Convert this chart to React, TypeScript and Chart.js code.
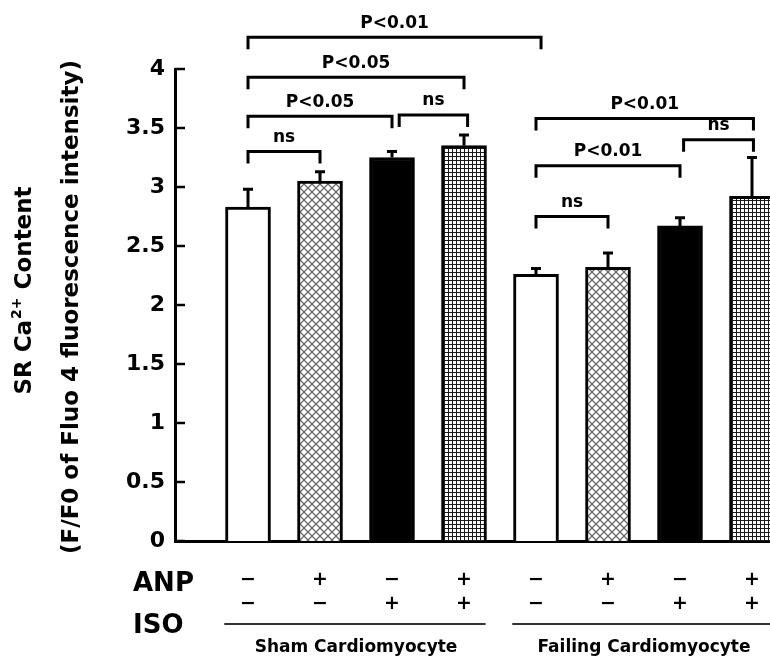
import React, { useEffect, useRef } from 'react';
import { Chart, registerables } from 'chart.js';
Chart.register(...registerables);

// ---- data ----
const categories = ['Sham −/−', 'Sham +/−', 'Sham −/+', 'Sham +/+', 'Failing −/−', 'Failing +/−', 'Failing −/+', 'Failing +/+'];
const means = [2.83, 3.05, 3.25, 3.35, 2.26, 2.32, 2.67, 2.92];
const sems = [0.15, 0.08, 0.05, 0.09, 0.05, 0.12, 0.07, 0.33];
const fillKinds = ['white', 'crosshatch', 'black', 'grid', 'white', 'crosshatch', 'black', 'grid'];
const anpSigns = ['−', '+', '−', '+', '−', '+', '−', '+'];
const isoSigns = ['−', '−', '+', '+', '−', '−', '+', '+'];
const groupLabels = ['Sham Cardiomyocyte', 'Failing Cardiomyocyte'];
const groupStart = [0, 4];
const groupEnd = [3, 7];
const bracketFrom = [0, 0, 2.1, 0, 0, 4, 4, 6.05, 4];
const bracketTo = [1, 2, 3.05, 3, 4.07, 5, 6, 7.02, 7.02];
const bracketLevel = [3.3, 3.6, 3.61, 3.93, 4.27, 2.75, 3.18, 3.4, 3.58];
const bracketText = ['ns', 'P<0.05', 'ns', 'P<0.05', 'P<0.01', 'ns', 'P<0.01', 'ns', 'P<0.01'];
const yTickValues = [0, 0.5, 1, 1.5, 2, 2.5, 3, 3.5, 4];
const yTitleLine1 = ['SR Ca', '2+', ' Content'];
const yTitleLine2 = '(F/F0 of Fluo 4 fluorescence intensity)';
const rowLabels = ['ANP', 'ISO'];

const FONT = "'DejaVu Sans'";

function makeCross(): CanvasPattern | string {
  const c = document.createElement('canvas');
  c.width = 8; c.height = 8;
  const g = c.getContext('2d');
  if (!g) return '#aaa';
  g.fillStyle = '#fff';
  g.fillRect(0, 0, 8, 8);
  g.strokeStyle = '#6a6a6a';
  g.lineWidth = 1.3;
  g.beginPath();
  g.moveTo(-1, -1); g.lineTo(9, 9);
  g.moveTo(9, -1); g.lineTo(-1, 9);
  g.stroke();
  return g.createPattern(c, 'repeat') || '#aaa';
}

function makeGrid(): CanvasPattern | string {
  const c = document.createElement('canvas');
  c.width = 4; c.height = 4;
  const g = c.getContext('2d');
  if (!g) return '#555';
  g.fillStyle = '#fff';
  g.fillRect(0, 0, 4, 4);
  g.fillStyle = '#1a1a1a';
  g.fillRect(0, 0, 4, 1);
  g.fillRect(0, 0, 1, 4);
  return g.createPattern(c, 'repeat') || '#555';
}

export default function App() {
  const ref = useRef<HTMLCanvasElement | null>(null);

  useEffect(() => {
    document.body.style.margin = '0';
    const canvas = ref.current;
    if (!canvas) return;
    const cross = makeCross();
    const grid = makeGrid();
    const bg = fillKinds.map((k) => (k === 'white' ? '#ffffff' : k === 'black' ? '#000000' : k === 'crosshatch' ? cross : grid));

    const overlay = {
      id: 'overlay',
      afterDraw(chart: any) {
        const ctx = chart.ctx as CanvasRenderingContext2D;
        const xs = chart.scales.x;
        const ys = chart.scales.y;
        const meta = chart.getDatasetMeta(0);
        ctx.save();
        ctx.strokeStyle = '#000';
        ctx.fillStyle = '#000';

        // inward y ticks
        ctx.lineWidth = 2.5;
        const ax = chart.chartArea.left;
        yTickValues.forEach((v) => {
          const py = ys.getPixelForValue(v);
          ctx.beginPath();
          ctx.moveTo(ax, py);
          ctx.lineTo(ax + 10, py);
          ctx.stroke();
        });

        // error bars
        ctx.lineWidth = 3;
        means.forEach((m, i) => {
          const el = meta.data[i];
          const px = el.x;
          const top = ys.getPixelForValue(m);
          const et = ys.getPixelForValue(m + sems[i]);
          ctx.beginPath();
          ctx.moveTo(px, top);
          ctx.lineTo(px, et);
          ctx.moveTo(px - 5, et);
          ctx.lineTo(px + 5, et);
          ctx.stroke();
        });

        // brackets
        ctx.lineWidth = 3;
        ctx.font = `bold 17px ${FONT}`;
        ctx.textAlign = 'center';
        ctx.textBaseline = 'middle';
        bracketText.forEach((t, i) => {
          const x1 = xs.getPixelForValue(bracketFrom[i]);
          const x2 = xs.getPixelForValue(bracketTo[i]);
          const py = ys.getPixelForValue(bracketLevel[i]);
          ctx.beginPath();
          ctx.moveTo(x1, py + 12);
          ctx.lineTo(x1, py);
          ctx.lineTo(x2, py);
          ctx.lineTo(x2, py + 12);
          ctx.stroke();
          ctx.fillText(t, (x1 + x2) / 2, py - 14);
        });

        // treatment rows
        ctx.font = `bold 19px ${FONT}`;
        categories.forEach((_, i) => {
          const px = xs.getPixelForValue(i);
          ctx.fillText(anpSigns[i], px, 580);
          ctx.fillText(isoSigns[i], px, 604);
        });
        ctx.font = `bold 26px ${FONT}`;
        ctx.textAlign = 'left';
        ctx.fillText(rowLabels[0], 133, 584);
        ctx.fillText(rowLabels[1], 133, 626);

        // group underline and labels
        ctx.strokeStyle = '#333';
        ctx.lineWidth = 2;
        ctx.font = `bold 17px ${FONT}`;
        ctx.textAlign = 'center';
        groupLabels.forEach((g, i) => {
          const gx1 = xs.getPixelForValue(groupStart[i] - 0.33);
          const gx2 = xs.getPixelForValue(groupEnd[i] + 0.3);
          ctx.beginPath();
          ctx.moveTo(gx1, 624);
          ctx.lineTo(gx2, 624);
          ctx.stroke();
          const mid = xs.getPixelForValue((groupStart[i] + groupEnd[i]) / 2);
          ctx.fillText(g, mid, 648);
        });

        // y title (rotated)
        ctx.save();
        ctx.translate(25, 291);
        ctx.rotate(-Math.PI / 2);
        ctx.textAlign = 'left';
        ctx.textBaseline = 'middle';
        const big = `bold 23px ${FONT}`;
        const small = `bold 14px ${FONT}`;
        ctx.font = big;
        const w1 = ctx.measureText(yTitleLine1[0]).width;
        const w3 = ctx.measureText(yTitleLine1[2]).width;
        ctx.font = small;
        const w2 = ctx.measureText(yTitleLine1[1]).width;
        let sx = -(w1 + w2 + w3) / 2;
        ctx.font = big;
        ctx.fillText(yTitleLine1[0], sx, 0);
        sx += w1;
        ctx.font = small;
        ctx.fillText(yTitleLine1[1], sx + 1, -8);
        sx += w2 + 1;
        ctx.font = big;
        ctx.fillText(yTitleLine1[2], sx, 0);
        ctx.restore();

        ctx.save();
        ctx.translate(72, 307);
        ctx.rotate(-Math.PI / 2);
        ctx.textAlign = 'center';
        ctx.textBaseline = 'middle';
        ctx.font = `bold 23px ${FONT}`;
        ctx.fillText(yTitleLine2, 0, 0);
        ctx.restore();

        ctx.restore();
      },
    };

    const chart = new Chart(canvas, {
      type: 'bar',
      data: {
        labels: categories,
        datasets: [
          {
            data: means.map((m, i) => ({ x: i, y: m })) as any,
            backgroundColor: bg as any,
            borderColor: '#000',
            borderWidth: 3,
            barThickness: 45,
          },
        ],
      },
      options: {
        responsive: false,
        animation: false,
        layout: { padding: { top: 69, left: 0, right: 0, bottom: 0 } },
        plugins: { legend: { display: false }, tooltip: { enabled: false }, title: { display: false } },
        scales: {
          x: {
            type: 'linear',
            min: -1.014,
            max: 7.25,
            offset: false,
            grid: { display: false },
            ticks: { display: false },
            border: { display: true, color: '#000', width: 3 },
            afterFit: (s: any) => { s.height = 122; },
          },
          y: {
            min: 0,
            max: 4,
            grid: { display: false },
            ticks: {
              stepSize: 0.5,
              padding: 2,
              color: '#000',
              font: { family: FONT, size: 22, weight: 'bold' },
              callback: (v: any) => String(Number(v)),
            },
            border: { display: true, color: '#000', width: 3 },
            afterFit: (s: any) => { s.width = 175; },
          },
        },
      },
      plugins: [overlay],
    });
    return () => chart.destroy();
  }, []);

  return (
    <div style={{ width: 770, height: 663, background: '#fff' }}>
      <canvas ref={ref} width={770} height={663} style={{ display: 'block' }} />
    </div>
  );
}
